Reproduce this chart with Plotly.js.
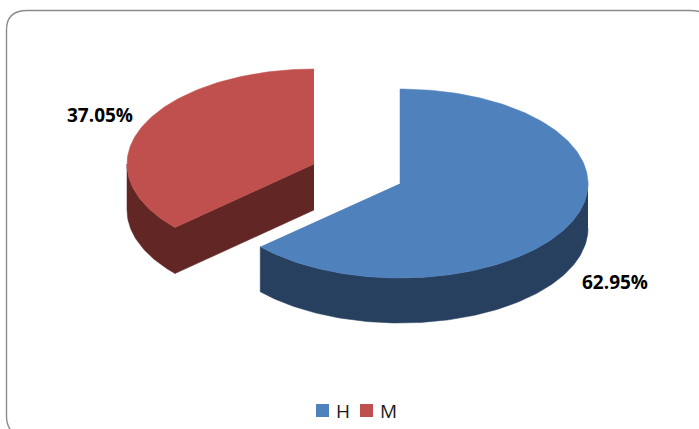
<!DOCTYPE html>
<html>
<head>
<meta charset="utf-8">
<script src="https://cdn.plot.ly/plotly-3.0.1.min.js"></script>
<style>html,body{margin:0;padding:0;background:#fff;overflow:hidden}#chart{width:699px;height:429px}</style>
</head>
<body>
<div id="chart"></div>
<script>
var categories = ['H', 'M'];
var shares = [62.95, 37.05];
var shareLabels = ['62.95%', '37.05%'];
var topColors = ['#4F81BD', '#C0504D'];
var sideColors = ['#28405F', '#622725'];

// Projection of the 3D pie on to the page
var tiltCorrection = 1.4; // degrees: the 3D view shifts the split slightly
var splitDeg = shares[0] * 3.6 + tiltCorrection;
var discs = [
  {cx: 400, cy: 183.5, rx: 188, ry: 94.5, depth: 45, from: 0, to: splitDeg},
  {cx: 314, cy: 164, rx: 187, ry: 95, depth: 46, from: splitDeg, to: 360}
];

function pt(d, deg, drop) {
  var a = deg * Math.PI / 180;
  return [d.cx + d.rx * Math.sin(a), d.cy - d.ry * Math.cos(a) + (drop || 0)];
}
function arc(d, a0, a1, drop) {
  var out = [], n = Math.max(2, Math.ceil(Math.abs(a1 - a0)));
  for (var i = 0; i <= n; i++) out.push(pt(d, a0 + (a1 - a0) * i / n, drop));
  return out;
}
function poly(points, color, name) {
  return {
    type: 'scatter', mode: 'lines', fill: 'toself', fillcolor: color,
    x: points.map(function (p) { return p[0]; }),
    y: points.map(function (p) { return p[1]; }),
    line: {color: color, width: 0.5}, hoverinfo: 'skip',
    showlegend: false, name: name
  };
}

var traces = [];
var m = discs[1];
traces.push(poly(arc(m, m.from, 270).concat(arc(m, 270, m.from, m.depth)), sideColors[1], 'M rim'));
var c0 = [m.cx, m.cy], c1 = pt(m, m.from);
traces.push(poly([c0, c1, [c1[0], c1[1] + m.depth], [c0[0], c0[1] + m.depth]], sideColors[1], 'M cut'));
traces.push(poly([c0].concat(arc(m, m.from, m.to)), topColors[1], 'M top'));
var h = discs[0];
traces.push(poly(arc(h, 90, h.to).concat(arc(h, h.to, 90, h.depth)), sideColors[0], 'H rim'));
traces.push(poly([[h.cx, h.cy]].concat(arc(h, h.from, h.to)), topColors[0], 'H top'));

var frame = 'M 6.5 30 Q 6.5 10.5 27 10.5 L 690 10.5 Q 712 10.5 712 30 L 712 416 Q 712 436 692 436 L 27 436 Q 6.5 436 6.5 416 Z';

var labelFont = {family: '"Open Sans", sans-serif', size: 19, color: '#000'};
var annotations = [
  {x: 614.5, y: 282, xref: 'x', yref: 'y', text: '<b>' + shareLabels[0] + '</b>', showarrow: false, font: labelFont},
  {x: 100, y: 115, xref: 'x', yref: 'y', text: '<b>' + shareLabels[1] + '</b>', showarrow: false, font: labelFont}
];

// Legend row: one swatch with its label per category
var legendStartX = 322.5, legendStepX = 44, legendY = 410.5;
categories.forEach(function (cat, i) {
  traces.push({type: 'scatter', mode: 'markers', x: [legendStartX + legendStepX * i], y: [legendY],
    name: cat, marker: {symbol: 'square', size: 13, color: topColors[i]}, hoverinfo: 'skip', showlegend: false});
  annotations.push({x: legendStartX + legendStepX * i + 11.5, y: legendY + 0.5, xref: 'x', yref: 'y', xanchor: 'left',
    text: cat, showarrow: false, font: {family: '"Open Sans", sans-serif', size: 19, color: '#1a1a1a'}});
});

var layout = {
  width: 699, height: 429,
  margin: {l: 0, r: 0, t: 0, b: 0},
  paper_bgcolor: '#fff', plot_bgcolor: '#fff',
  xaxis: {range: [0, 699], visible: false, fixedrange: true},
  yaxis: {range: [429, 0], visible: false, fixedrange: true},
  shapes: [{type: 'path', xref: 'x', yref: 'y', path: frame, line: {color: '#8C8C8C', width: 1.4}, layer: 'below'}],
  annotations: annotations,
  showlegend: false
};
Plotly.newPlot('chart', traces, layout, {displayModeBar: false, staticPlot: true});
</script>
</body>
</html>
